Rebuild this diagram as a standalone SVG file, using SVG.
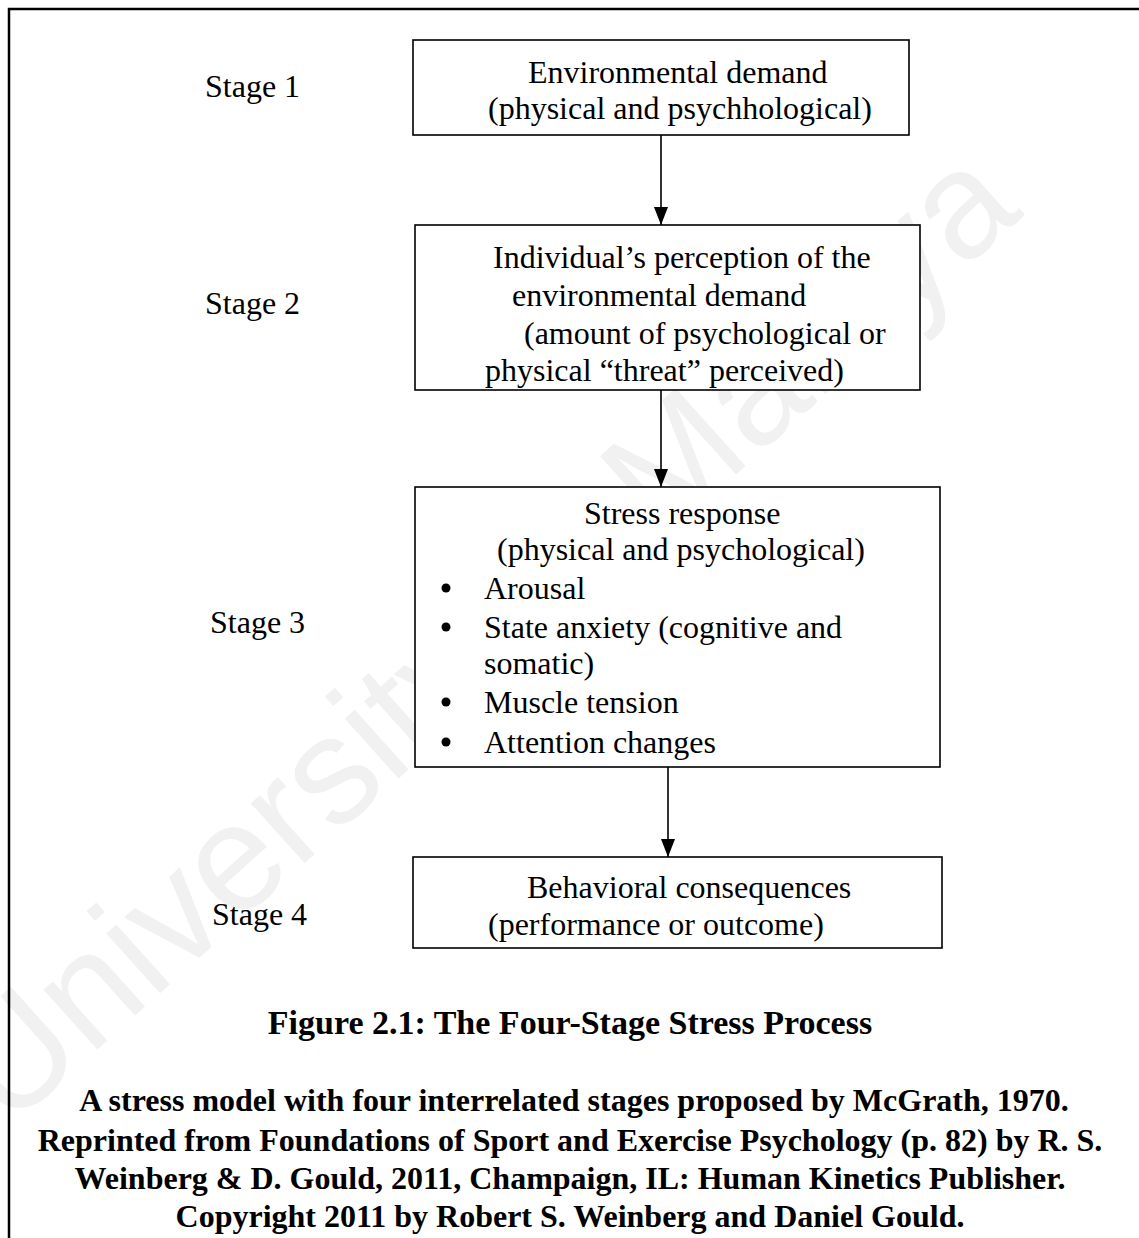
<svg xmlns="http://www.w3.org/2000/svg" width="1139" height="1238" viewBox="0 0 1139 1238">
  <style>
    .t { font-family: "Liberation Serif", "Times New Roman", serif; font-size: 32px; fill: #000; }
    .b { font-family: "Liberation Serif", "Times New Roman", serif; font-size: 32px; font-weight: bold; fill: #000; }
    .title { font-size: 34px; }
    .box { fill: #fff; stroke: #000; stroke-width: 1.6; }
    .conn { stroke: #000; stroke-width: 1.6; fill: none; }
    .wm { font-family: "Liberation Sans", Arial, sans-serif; font-size: 152px; fill: #f1f1f1; }
  </style>
  <defs>
    <marker id="ah" viewBox="0 0 18 14" refX="18" refY="7" markerWidth="18" markerHeight="14" markerUnits="userSpaceOnUse" orient="auto">
      <path d="M0,0 L18,7 L0,14 Z" fill="#000"/>
    </marker>
  </defs>
  <rect width="1139" height="1238" fill="#fff"/>
  <g id="watermark">
    <text class="wm" x="8" y="1130" transform="rotate(-42 8 1130)">University of Malaya</text>
  </g>
  <g id="frame">
    <path d="M9,1238 L9,9 L1139,9" fill="none" stroke="#000" stroke-width="2.5"/>
  </g>
  <g id="connectors">
    <line class="conn" x1="661" y1="135" x2="661" y2="225" marker-end="url(#ah)"/>
    <line class="conn" x1="661" y1="390" x2="661" y2="487" marker-end="url(#ah)"/>
    <line class="conn" x1="668" y1="767" x2="668" y2="857" marker-end="url(#ah)"/>
  </g>
  <g id="stage1">
    <text class="t" x="205" y="97">Stage 1</text>
  </g>
  <g id="stage2">
    <text class="t" x="205" y="314">Stage 2</text>
  </g>
  <g id="stage3">
    <text class="t" x="210" y="633">Stage 3</text>
  </g>
  <g id="stage4">
    <text class="t" x="212" y="925">Stage 4</text>
  </g>
  <g id="node1">
    <rect class="box" x="413" y="40" width="496" height="95"/>
    <text class="t" x="528" y="83">Environmental demand</text>
    <text class="t" x="488" y="119">(physical and psychhological)</text>
  </g>
  <g id="node2">
    <rect class="box" x="415" y="225" width="505" height="165"/>
    <text class="t" x="493" y="268">Individual’s perception of the</text>
    <text class="t" x="512" y="306">environmental demand</text>
    <text class="t" x="524" y="344">(amount of psychological or</text>
    <text class="t" x="485" y="381">physical “threat” perceived)</text>
  </g>
  <g id="node3">
    <rect class="box" x="415" y="487" width="525" height="280"/>
    <text class="t" x="584" y="524">Stress response</text>
    <text class="t" x="497" y="560">(physical and psychological)</text>
    <circle cx="446" cy="588" r="4.5" fill="#000"/>
    <text class="t" x="484" y="599">Arousal</text>
    <circle cx="446" cy="627" r="4.5" fill="#000"/>
    <text class="t" x="484" y="638">State anxiety (cognitive and</text>
    <text class="t" x="484" y="674">somatic)</text>
    <circle cx="446" cy="702" r="4.5" fill="#000"/>
    <text class="t" x="484" y="713">Muscle tension</text>
    <circle cx="446" cy="742" r="4.5" fill="#000"/>
    <text class="t" x="484" y="753">Attention changes</text>
  </g>
  <g id="node4">
    <rect class="box" x="413" y="857" width="529" height="91"/>
    <text class="t" x="527" y="898">Behavioral consequences</text>
    <text class="t" x="488" y="935">(performance or outcome)</text>
  </g>
  <g id="caption">
    <text class="b title" x="570" y="1034" text-anchor="middle">Figure 2.1: The Four-Stage Stress Process</text>
    <text class="b" x="574" y="1111" text-anchor="middle">A stress model with four interrelated stages proposed by McGrath, 1970.</text>
    <text class="b" x="570" y="1151" text-anchor="middle">Reprinted from Foundations of Sport and Exercise Psychology (p. 82) by R. S.</text>
    <text class="b" x="570" y="1189" text-anchor="middle">Weinberg &amp; D. Gould, 2011, Champaign, IL: Human Kinetics Publisher.</text>
    <text class="b" x="570" y="1227" text-anchor="middle">Copyright 2011 by Robert S. Weinberg and Daniel Gould.</text>
  </g>
</svg>
